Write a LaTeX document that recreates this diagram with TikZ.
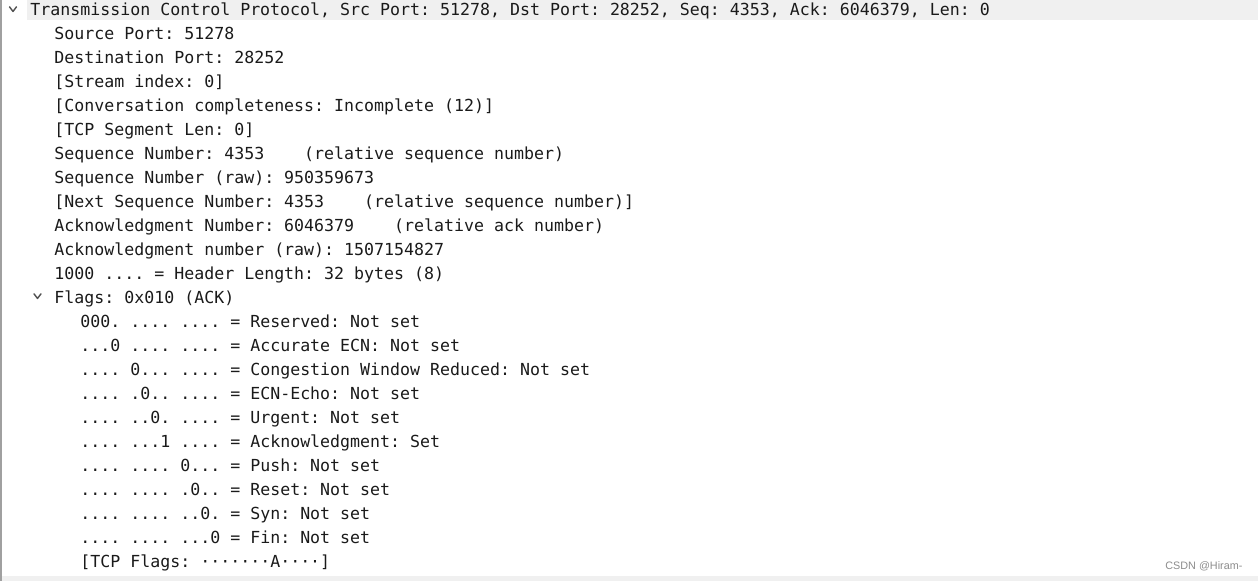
\documentclass[tikz,border=0pt]{standalone}
\usepackage{fontspec}
\newfontfamily\mono{DejaVu Sans Mono}
\newfontfamily\wmfont{Liberation Sans}
\definecolor{bandgray}{HTML}{F0F0F0}
\definecolor{edgegray}{HTML}{A0A0A0}
\definecolor{chevgray}{HTML}{505050}
\definecolor{txt}{HTML}{1A1A1A}
\definecolor{wmgray}{HTML}{8C8C8C}
\begin{document}
\frenchspacing
\begin{tikzpicture}[x=0.5pt,y=-0.5pt,
  row/.style={anchor=base west, inner sep=0pt, text=txt, font=\mono\fontsize{8.3}{10}\selectfont},
  chev/.style={draw=chevgray, line width=0.7pt, line cap=round, line join=round}]
\useasboundingbox (0,0) rectangle (1258,581);
% backgrounds
\fill[bandgray] (27,0) rectangle (1258,20.5);
\fill[bandgray] (2,576) rectangle (1258,581);
\draw[edgegray, line width=1pt] (1,0) -- (1,581);
% chevrons
\draw[chev] (9.5,6.8) -- (13,11.5) -- (16.5,6.8);
\draw[chev] (34,293.8) -- (37.5,298.5) -- (41,293.8);
% text rows
\node[row] (r0) at (30,16) {Transmission Control Protocol, Src Port: 51278, Dst Port: 28252, Seq: 4353, Ack: 6046379, Len: 0};
\node[row] (r1) at (54,40) {Source Port: 51278};
\node[row] (r2) at (54,64) {Destination Port: 28252};
\node[row] (r3) at (54,88) {[Stream index: 0]};
\node[row] (r4) at (54,112) {[Conversation completeness: Incomplete (12)]};
\node[row] (r5) at (54,136) {[TCP Segment Len: 0]};
\node[row] (r6) at (54,160) {Sequence Number: 4353\ \ \ \ (relative sequence number)};
\node[row] (r7) at (54,184) {Sequence Number (raw): 950359673};
\node[row] (r8) at (54,208) {[Next Sequence Number: 4353\ \ \ \ (relative sequence number)]};
\node[row] (r9) at (54,232) {Acknowledgment Number: 6046379\ \ \ \ (relative ack number)};
\node[row] (r10) at (54,256) {Acknowledgment number (raw): 1507154827};
\node[row] (r11) at (54,280) {1000 .... = Header Length: 32 bytes (8)};
\node[row] (r12) at (54,304) {Flags: 0x010 (ACK)};
\node[row] (r13) at (80,328) {000. .... .... = Reserved: Not set};
\node[row] (r14) at (80,352) {...0 .... .... = Accurate ECN: Not set};
\node[row] (r15) at (80,376) {.... 0... .... = Congestion Window Reduced: Not set};
\node[row] (r16) at (80,400) {.... .0.. .... = ECN-Echo: Not set};
\node[row] (r17) at (80,424) {.... ..0. .... = Urgent: Not set};
\node[row] (r18) at (80,448) {.... ...1 .... = Acknowledgment: Set};
\node[row] (r19) at (80,472) {.... .... 0... = Push: Not set};
\node[row] (r20) at (80,496) {.... .... .0.. = Reset: Not set};
\node[row] (r21) at (80,520) {.... .... ..0. = Syn: Not set};
\node[row] (r22) at (80,544) {.... .... ...0 = Fin: Not set};
\node[row] (r23) at (80,568) {[TCP Flags: ·······A····]};
% watermark
\node[anchor=base west, inner sep=0pt, text=wmgray, font=\wmfont\fontsize{5.4}{6}\selectfont] (wm) at (1165,570) {CSDN @Hiram-};
\end{tikzpicture}
\end{document}
